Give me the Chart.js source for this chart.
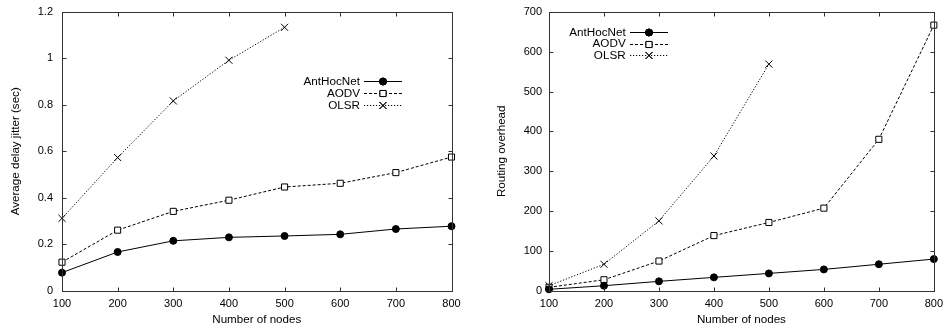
<!DOCTYPE html>
<html>
<head>
<meta charset="utf-8">
<script src="https://cdn.jsdelivr.net/npm/chart.js@4/dist/chart.umd.min.js"></script>
<style>
html,body{margin:0;padding:0;background:#fff;}
#wrap{position:relative;width:950px;height:329px;}
.box{position:absolute;top:0;width:475px;height:329px;}
</style>
</head>
<body>
<div id="wrap">
  <div class="box" style="left:0"><canvas id="c1"></canvas></div>
  <div class="box" style="left:475px"><canvas id="c2"></canvas></div>
</div>
<script>
const nodes = [100, 200, 300, 400, 500, 600, 700, 800];
const seriesNames = ['AntHocNet', 'AODV', 'OLSR'];

// Left chart: Average delay jitter (sec)
const jitterAntHocNet = [0.077, 0.166, 0.214, 0.229, 0.235, 0.242, 0.265, 0.277];
const jitterAODV      = [0.122, 0.260, 0.341, 0.389, 0.446, 0.462, 0.508, 0.575];
const jitterOLSR      = [0.311, 0.573, 0.817, 0.992, 1.134];

// Right chart: Routing overhead
const overheadAntHocNet = [3, 12, 23, 33, 43, 53, 66, 79];
const overheadAODV      = [8, 27, 74, 138, 171, 207, 380, 667];
const overheadOLSR      = [12, 66, 175, 338, 569];

const jitterTicks = [0, 0.2, 0.4, 0.6, 0.8, 1, 1.2];
const overheadTicks = [0, 100, 200, 300, 400, 500, 600, 700];

const FONT = 'Liberation Sans, Arial, Helvetica, sans-serif';
const styles = [
  {dash: [], point: 'circle', radius: 3.5, fill: '#000'},
  {dash: [3, 2], point: 'rect', radius: 4.3, fill: '#fff'},
  {dash: [1.2, 1.8], point: 'crossRot', radius: 5, fill: '#fff'}
];

function toXY(vals) { return vals.map((v, i) => ({x: nodes[i], y: v})); }

function makeDatasets(arrs) {
  return arrs.map((a, i) => ({
    label: seriesNames[i],
    data: toXY(a),
    borderColor: '#000',
    borderWidth: 1,
    borderDash: styles[i].dash,
    pointStyle: styles[i].point,
    pointRadius: styles[i].radius,
    pointBackgroundColor: styles[i].fill,
    pointBorderColor: '#000',
    pointBorderWidth: 1,
    tension: 0,
    fill: false,
    clip: false
  }));
}

const framePlugin = {
  id: 'frame',
  afterDatasetsDraw(chart, args, opts) {
    const ctx = chart.ctx;
    const xs = chart.scales.x, ys = chart.scales.y;
    const L0 = Math.round(xs.left) + 0.5, R0 = Math.round(xs.right) + 0.5;
    const T0 = Math.round(ys.top) + 0.5, B0 = Math.round(ys.bottom) + 0.5;
    ctx.save();
    ctx.strokeStyle = '#333';
    ctx.lineWidth = 1;
    ctx.setLineDash([]);
    ctx.strokeRect(L0, T0, R0 - L0, B0 - T0);
    ctx.beginPath();
    const tl = 4;
    xs.ticks.forEach(t => {
      const px = Math.round(xs.getPixelForValue(t.value)) + 0.5;
      ctx.moveTo(px, B0); ctx.lineTo(px, B0 - tl);
      ctx.moveTo(px, T0); ctx.lineTo(px, T0 + tl);
    });
    ys.ticks.forEach(t => {
      const py = Math.round(ys.getPixelForValue(t.value)) + 0.5;
      ctx.moveTo(L0, py); ctx.lineTo(L0 + tl, py);
      ctx.moveTo(R0, py); ctx.lineTo(R0 - tl, py);
    });
    ctx.stroke();

    // legend (gnuplot style: right-aligned text, then sample)
    const L = opts.legend;
    ctx.font = '11.7px ' + FONT;
    ctx.fillStyle = '#000';
    ctx.textAlign = 'right';
    ctx.textBaseline = 'middle';
    seriesNames.forEach((name, i) => {
      const y = L.y + i * L.dy;
      ctx.fillText(name, L.textRight, y + 0.5);
      ctx.save();
      ctx.strokeStyle = '#000';
      ctx.lineWidth = 1;
      ctx.setLineDash(styles[i].dash);
      ctx.beginPath();
      ctx.moveTo(L.x0, Math.round(y) + 0.5);
      ctx.lineTo(L.x1, Math.round(y) + 0.5);
      ctx.stroke();
      ctx.setLineDash([]);
      ctx.fillStyle = styles[i].fill;
      Chart.helpers.drawPoint(ctx, {pointStyle: styles[i].point, radius: styles[i].radius, borderWidth: 1},
        (L.x0 + L.x1) / 2, Math.round(y) + 0.5);
      ctx.fill();
      ctx.stroke();
      ctx.restore();
    });
    ctx.restore();
  }
};

function makeChart(id, arrs, ticksArr, yMax, yTitle, cfg) {
  return new Chart(document.getElementById(id), {
    type: 'line',
    data: {datasets: makeDatasets(arrs)},
    plugins: [framePlugin],
    options: {
      responsive: true,
      maintainAspectRatio: false,
      animation: false,
      layout: {padding: {left: 0, right: cfg.padRight, top: 12, bottom: 0}},
      plugins: {
        legend: {display: false},
        tooltip: {enabled: false},
        frame: {legend: cfg.legend}
      },
      scales: {
        x: {
          type: 'linear', min: 100, max: 800,
          afterBuildTicks: s => { s.ticks = nodes.map(v => ({value: v})); },
          grid: {display: false, drawTicks: false},
          border: {display: false},
          ticks: {color: '#000', font: {family: FONT, size: 11}, padding: 7, maxRotation: 0,
                  callback: v => String(v)},
          title: {display: true, text: 'Number of nodes', color: '#000',
                  font: {family: FONT, size: 11.6}, padding: {top: 0, bottom: 2.5}},
          afterFit: s => { s.height = 38.5; }
        },
        y: {
          type: 'linear', min: 0, max: yMax,
          afterBuildTicks: s => { s.ticks = ticksArr.map(v => ({value: v})); },
          grid: {display: false, drawTicks: false},
          border: {display: false},
          ticks: {color: '#000', font: {family: FONT, size: 11}, padding: cfg.tickPad,
                  callback: v => String(v)},
          title: {display: true, text: yTitle, color: '#000',
                  font: {family: FONT, size: 11.6}, padding: {top: cfg.titlePad, bottom: 0}},
          afterFit: s => { s.width = cfg.yWidth; s.paddingTop = 0; s.paddingBottom = 0; }
        }
      }
    }
  });
}

makeChart('c1', [jitterAntHocNet, jitterAODV, jitterOLSR], jitterTicks, 1.2,
  'Average delay jitter (sec)',
  {padRight: 23.5, yWidth: 62, tickPad: 9, titlePad: 8.8,
   legend: {textRight: 360, x0: 364, x1: 402, y: 81, dy: 12}});
makeChart('c2', [overheadAntHocNet, overheadAODV, overheadOLSR], overheadTicks, 700,
  'Routing overhead',
  {padRight: 12, yWidth: 74, tickPad: 7, titlePad: 19.8,
   legend: {textRight: 150.7, x0: 155, x1: 193, y: 32, dy: 11.5}});
</script>
</body>
</html>
